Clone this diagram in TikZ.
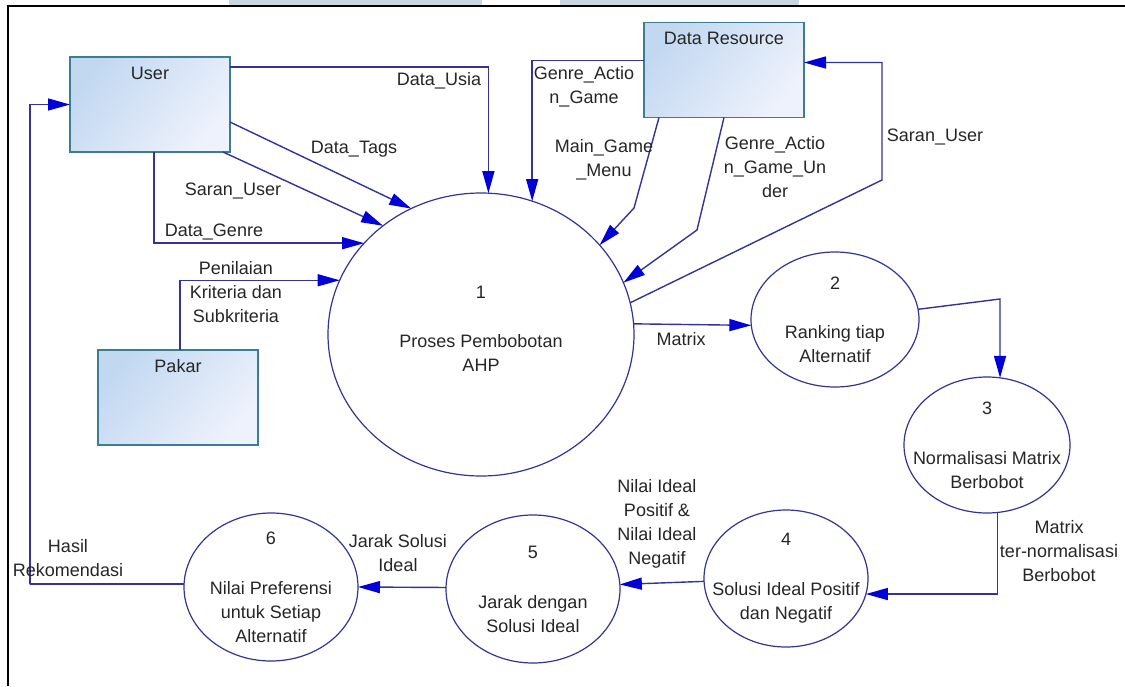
\documentclass[tikz,border=0pt]{standalone}
\usepackage{fontspec}
\setmainfont{Liberation Sans}
\usetikzlibrary{arrows.meta,shapes.geometric}
\definecolor{flowblue}{RGB}{52,52,150}
\definecolor{tipblue}{RGB}{0,0,215}
\definecolor{boxedge}{RGB}{62,124,146}
\definecolor{boxdark}{RGB}{194,216,241}
\definecolor{boxlight}{RGB}{238,242,252}
\definecolor{txtgrey}{RGB}{38,38,38}
\definecolor{bandgrey}{RGB}{202,213,226}
\begin{document}
\begin{tikzpicture}[x=0.5pt, y=-0.5pt, font=\fontsize{9}{12}\selectfont, line join=miter,
        every node/.style={text=txtgrey, inner sep=0pt, outer sep=0pt},
        entity/.style={draw=boxedge, line width=0.6pt, top color=boxdark, bottom color=boxlight, shading angle=50, minimum width=80pt, minimum height=47.5pt},
        proc/.style={draw=flowblue, line width=0.6pt, ellipse},
        txt/.style={align=center},
        flow/.style={draw=flowblue, line width=0.7pt, -{Triangle[length=11pt, width=6pt, color=tipblue]}}]
        \useasboundingbox (0,0) rectangle (1125,686);
        \fill[white] (0,0) rectangle (1125,686);
        \fill[bandgrey] (229,0) rectangle (482,5);
        \fill[bandgrey] (560,0) rectangle (799,5);
        \draw[line width=1pt] (8,686) -- (8,6) -- (1125,6);

        % Entities
        \node[entity] (user) at (150,104.5) {};
        \node[txt] (tuser) at ([yshift=-8pt]user.north) {User};
        \node[entity] (resource) at (724,70) {};
        \node[txt] (tresource) at ([yshift=-8pt]resource.north) {Data Resource};
        \node[entity] (pakar) at (178,397.5) {};
        \node[txt] (tpakar) at ([yshift=-8pt]pakar.north) {Pakar};

        % Processes
        \node[proc, minimum width=153pt, minimum height=141.5pt] (p1) at (481,334.5) {};
        \node[txt] (t1) at ([yshift=3pt]p1) {1\\[12.5pt]Proses Pembobotan\\AHP};
        \node[proc, minimum width=84pt, minimum height=67.5pt] (p2) at (835,319.5) {};
        \node[txt] (t2) at (p2) {2\\[12.5pt]Ranking tiap\\Alternatif};
        \node[proc, minimum width=83pt, minimum height=68pt] (p3) at (987,445) {};
        \node[txt] (t3) at (p3) {3\\[13pt]Normalisasi Matrix\\Berbobot};
        \node[proc, minimum width=82pt, minimum height=68.5pt] (p4) at (786,578.5) {};
        \node[txt] (t4) at (p4) {4\\[13pt]Solusi Ideal Positif\\dan Negatif};
        \node[proc, minimum width=87pt, minimum height=74pt] (p5) at (533,589) {};
        \node[txt] (t5) at (p5) {5\\[13pt]Jarak dengan\\Solusi Ideal};
        \node[proc, minimum width=87pt, minimum height=74pt] (p6) at (271,587) {};
        \node[txt] (t6) at (p6) {6\\[13pt]Nilai Preferensi\\untuk Setiap\\Alternatif};

        % Bends
        \coordinate (mgm) at (634,208);
        \coordinate (gagu) at (697,230);
        \coordinate (su) at (882,180);
        \coordinate (b23) at (1000,299);
        \coordinate (back) at (30,584);

        % Flows into process 1
        \draw[flow] ([yshift=-5pt]user.north east) -| (p1.87);
        \draw[flow] ([yshift=-32.5pt]user.north east) -- (p1.119);
        \draw[flow] ([xshift=-3.5pt]user.south east) -- (p1.132);
        \draw[flow] ([xshift=2pt]user.south) |- (p1.142);
        \draw[flow] ([xshift=1pt]pakar.north) |- (p1.159);
        \draw[flow] ([yshift=-19pt]resource.north west) -| (p1.69);
        \draw[flow] ([xshift=7.5pt]resource.south west) -- (mgm) -- (p1.37);
        \draw[flow] (resource.south) -- (gagu) -- (p1.20);
        \draw[flow] (p1.12) -- (su) |- ([yshift=-20pt]resource.north east);

        % Chain of processes
        \draw[flow] (p1.4) -- (p2.184);
        \draw[flow] (p2.7) -- (b23) -- (p3.79);
        \draw[flow] (p3.-81) |- (p4.-11);
        \draw[flow] (p4.182) -- (p5.3);
        \draw[flow] (p5.179) -- (p6.0);
        \draw[flow] (p6.178) -| (back) |- (user.west);

        % Flow labels
        \node[txt] (lusia) at (439,81) {Data\_Usia};
        \node[txt] (ltags) at (354,149) {Data\_Tags};
        \node[txt] (lsaranuser) at (233,191) {Saran\_User};
        \node[txt] (lgenre) at (214,232) {Data\_Genre};
        \node[txt] (lnilaikrit) at (236,292.5) {Penilaian\\Kriteria dan\\Subkriteria};
        \node[txt] (lgag) at (584,87) {Genre\_Actio\\n\_Game};
        \node[txt] (lmgm) at (604,159.5) {Main\_Game\\\_Menu};
        \node[txt] (lgagu) at (775,167.5) {Genre\_Actio\\n\_Game\_Un\\der};
        \node[txt] (lsaranres) at (935,137) {Saran\_User};
        \node[txt] (lmatrix) at (681,339) {Matrix};
        \node[txt] (lmtn) at (1059,551.5) {Matrix\\ter-normalisasi\\Berbobot};
        \node[txt] (lideal) at (657,524) {Nilai Ideal\\Positif \&\\Nilai Ideal\\Negatif};
        \node[txt] (ljarak) at (398,553) {Jarak Solusi\\Ideal};
        \node[txt] (lhasil) at (68,558) {Hasil\\Rekomendasi};
\end{tikzpicture}
\end{document}
